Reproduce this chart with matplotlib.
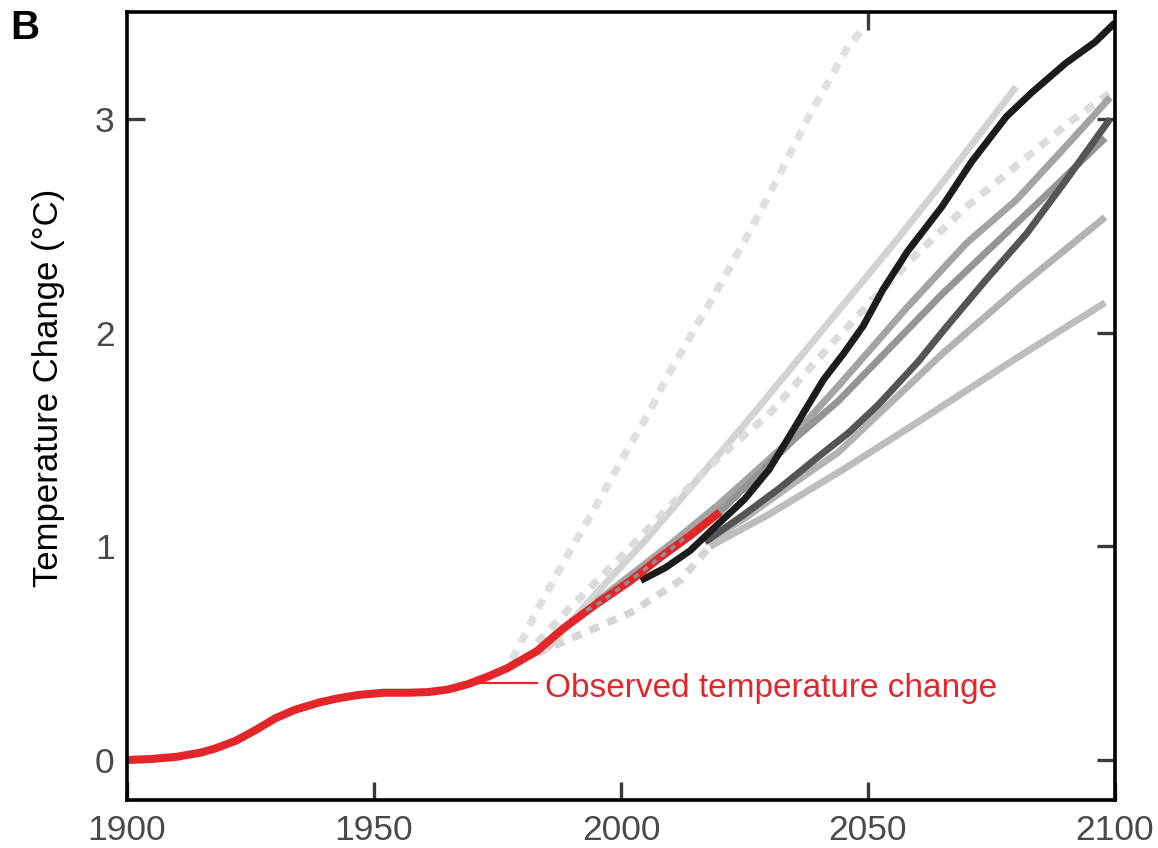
import matplotlib
matplotlib.use("Agg")
import matplotlib.pyplot as plt

plt.rcParams['font.family'] = ['Liberation Sans', 'DejaVu Sans']

# ---------------- data ----------------
obs_years = [1900, 1905, 1910, 1915, 1918, 1922, 1926, 1930, 1934, 1939, 1943, 1947,
             1952, 1957, 1961, 1965, 1969, 1973, 1977, 1980, 1983, 1988, 1995, 2002,
             2008, 2014, 2020]
obs_vals = [0.00, 0.005, 0.015, 0.035, 0.055, 0.09, 0.14, 0.195, 0.235, 0.27, 0.29, 0.305,
            0.315, 0.315, 0.318, 0.33, 0.355, 0.39, 0.43, 0.47, 0.51, 0.61, 0.73, 0.84,
            0.95, 1.05, 1.16]

# steep dashed projection
steep_years = [1978, 1983, 1988, 1994, 2001, 2006, 2009, 2019, 2026, 2033, 2038, 2046, 2049]
steep_vals = [0.47, 0.70, 0.91, 1.15, 1.44, 1.64, 1.78, 2.18, 2.47, 2.78, 3.01, 3.34, 3.42]

# dashed projection ending near 3.1
dash2_years = [1983, 1990, 2000, 2010, 2020, 2030, 2040, 2050, 2060, 2070, 2080, 2090, 2100]
dash2_vals = [0.55, 0.72, 0.95, 1.19, 1.42, 1.62, 1.88, 2.13, 2.37, 2.59, 2.78, 2.97, 3.14]

# lower dashed projection (ends ~2018)
dash3_years = [1983, 1992, 2002, 2012, 2018]
dash3_vals = [0.50, 0.59, 0.69, 0.84, 1.00]

# dashed overlay on the observations
dash4_years = [1993, 1996, 2003, 2008, 2013]
dash4_vals = [0.70, 0.74, 0.86, 0.95, 1.04]

# top light solid projection
light_years = [1985, 1995, 2005, 2015, 2025, 2035, 2045, 2055, 2065, 2080]
light_vals = [0.52, 0.78, 1.03, 1.30, 1.57, 1.85, 2.13, 2.41, 2.70, 3.15]

# medium grey projections
med1_years = [1995, 2000, 2010, 2020, 2033, 2044, 2058, 2070, 2080, 2090, 2099]
med1_vals = [0.74, 0.83, 1.01, 1.20, 1.47, 1.75, 2.12, 2.42, 2.62, 2.87, 3.10]
med2_years = [1995, 2000, 2010, 2020, 2035, 2044, 2065, 2085, 2098]
med2_vals = [0.73, 0.81, 0.98, 1.16, 1.50, 1.68, 2.18, 2.62, 2.91]

# dark grey projection
dark_years = [2017, 2025, 2032, 2040, 2046, 2052, 2060, 2066, 2074, 2082, 2090, 2099]
dark_vals = [1.02, 1.15, 1.27, 1.42, 1.53, 1.66, 1.86, 2.03, 2.25, 2.46, 2.71, 3.00]

# lighter grey projections starting ~2017
lt2_years = [2017, 2025, 2034, 2044, 2065, 2081, 2098]
lt2_vals = [1.02, 1.13, 1.28, 1.44, 1.90, 2.22, 2.54]
lt3_years = [2018, 2030, 2045, 2060, 2070, 2080, 2098]
lt3_vals = [1.00, 1.15, 1.36, 1.58, 1.73, 1.88, 2.14]

# black projection
black_years = [2004, 2009, 2014, 2019, 2025, 2030, 2035, 2041, 2045, 2049, 2053, 2058,
               2065, 2071, 2078, 2083, 2090, 2096, 2100]
black_vals = [0.84, 0.90, 0.98, 1.09, 1.22, 1.36, 1.55, 1.78, 1.90, 2.03, 2.20, 2.38,
              2.59, 2.80, 3.01, 3.12, 3.26, 3.36, 3.45]

xticks = [1900, 1950, 2000, 2050, 2100]
yticks = [0, 1, 2, 3]
ylabel = "Temperature Change (°C)"
obs_label = "Observed temperature change"
panel = "B"

# ---------------- figure ----------------
fig = plt.figure(figsize=(11.58, 8.48), dpi=100)
ax = fig.add_axes([127/1158, 1-800/848, (1115-127)/1158, (800-12)/848])

lw = 5.0
dlw = 5.4
dash = (1.35, 1.2)
ax.plot(steep_years, steep_vals, color='#e0e0e0', lw=dlw, ls=(0, dash))
ax.plot(dash3_years, dash3_vals, color='#d6d6d6', lw=dlw, ls=(0, dash))
ax.plot(light_years, light_vals, color='#d3d3d3', lw=lw, solid_capstyle='butt')
ax.plot(dash2_years, dash2_vals, color='#dcdcdc', lw=dlw, ls=(0, dash))
ax.plot(lt3_years, lt3_vals, color='#bdbdbd', lw=lw, solid_capstyle='butt')
ax.plot(lt2_years, lt2_vals, color='#b3b3b3', lw=lw, solid_capstyle='butt')
ax.plot(med1_years, med1_vals, color='#a4a4a4', lw=lw, solid_capstyle='butt')
ax.plot(med2_years, med2_vals, color='#959595', lw=lw, solid_capstyle='butt')
ax.plot(dark_years, dark_vals, color='#555555', lw=lw, solid_capstyle='butt')
ax.plot(black_years, black_vals, color='#1c1c1c', lw=lw, solid_capstyle='butt')
ax.plot(obs_years, obs_vals, color='#e2262a', lw=5.8, solid_capstyle='butt',
        solid_joinstyle='round')
ax.plot(dash4_years, dash4_vals, color='#8e8e8e', lw=2.6, ls=(0, (1.6, 1.6)))

# label with connector
ax.plot([1971.0, 1983.0], [0.36, 0.36], color='#e2262a', lw=1.6)
ax.text(1984.6, 0.337, obs_label, color='#e2262a', fontsize=24, va='center', ha='left')

ax.set_xlim(1900, 2100)
ax.set_ylim(-0.187, 3.50)
ax.set_xticks(xticks)
ax.set_yticks(yticks)
ax.set_xticklabels([str(v) for v in xticks])
ax.set_yticklabels([str(v) for v in yticks])
ax.tick_params(axis='both', direction='in', length=13, width=2.4, color='#3a3a3a',
               top=True, right=True, labelsize=25.5, labelcolor='#4a4a4a')
ax.tick_params(axis='x', pad=10)
ax.tick_params(axis='y', pad=9)
for t, v in zip(ax.xaxis.get_major_ticks(), xticks):
    t.tick2line.set_visible(v == 2050)
for t, v in zip(ax.yaxis.get_major_ticks(), yticks):
    t.tick1line.set_visible(v == 3)

for s in ax.spines.values():
    s.set_linewidth(2.6)
    s.set_color('black')

ax.set_ylabel(ylabel, fontsize=25, color='black')
ax.yaxis.set_label_coords(-0.063, 0.523)

fig.text(10/1158, 1-39/848, panel, fontsize=29, fontweight='bold', va='baseline', ha='left')

fig.savefig('out.png', dpi=100)
